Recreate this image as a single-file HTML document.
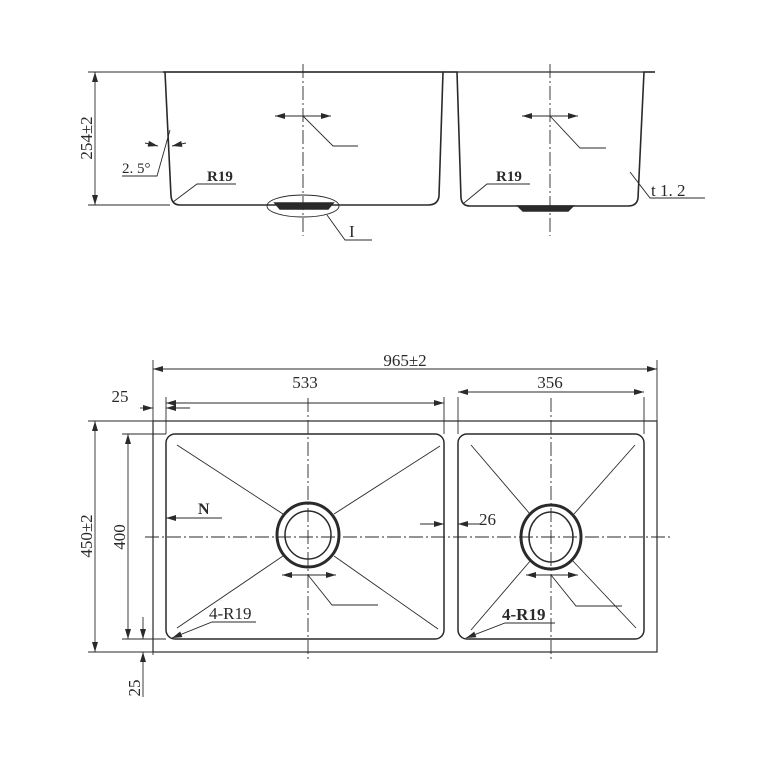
<!DOCTYPE html>
<html><head><style>html,body{margin:0;padding:0;background:#fff}svg{display:block}</style></head><body>
<svg width="768" height="768" viewBox="0 0 768 768" xmlns="http://www.w3.org/2000/svg" font-family="'Liberation Serif',serif" fill="none" stroke="#2a2a2a">
<defs>
<marker id="a" viewBox="0 0 10 6" refX="10" refY="3" markerWidth="11" markerHeight="6" orient="auto-start-reverse" markerUnits="userSpaceOnUse"><path d="M0,0L10,3L0,6z" fill="#2a2a2a" stroke="none"/></marker>
</defs>
<g stroke-width="1.6">
<path d="M163,72H443L439,196Q438,205 428,205H180Q172,205 171,196L165,72"/>
<path d="M443,72H457L461,198Q462,206 470,206H628Q637,206 638,198L644,72H655"/>
<line x1="163" y1="72" x2="655" y2="72" stroke-width="1.2"/>
<path d="M275,203H333L328,209H280Z" fill="#2a2a2a"/>
<path d="M518,206H573L568,211H523Z" fill="#2a2a2a"/>
</g>
<g stroke-width="0.9">
<line x1="88" y1="72" x2="163" y2="72"/><line x1="88" y1="205" x2="170" y2="205"/>
<line x1="95" y1="72" x2="95" y2="205" marker-start="url(#a)" marker-end="url(#a)"/>
<line x1="303" y1="64" x2="303" y2="236" stroke-dasharray="14,3,2,3"/>
<line x1="550" y1="64" x2="550" y2="236" stroke-dasharray="14,3,2,3"/>
<line x1="275" y1="116" x2="331" y2="116" marker-start="url(#a)" marker-end="url(#a)"/>
<polyline points="303,116 333,146 358,146"/>
<line x1="522" y1="116" x2="578" y2="116" marker-start="url(#a)" marker-end="url(#a)"/>
<polyline points="550,116 580,148 606,148"/>
<line x1="145" y1="143" x2="158" y2="146" marker-end="url(#a)"/><line x1="186" y1="143" x2="172" y2="146" marker-end="url(#a)"/>
<polyline points="122,176 157,176 170,130"/>
<polyline points="173,202 197,184 236,184"/>
<polyline points="464,203 487,184 530,184"/>
<ellipse cx="303" cy="206" rx="36" ry="11"/>
<polyline points="327,215 345,240 372,240"/>
<polyline points="630,172 650,198 705,198"/>
</g>
<g fill="#2a2a2a" stroke="none" font-size="17">
<text x="95" y="138" transform="rotate(-90 95 138)" text-anchor="middle" dy="-3">254±2</text>
<text x="122" y="173" font-size="15">2. 5°</text>
<text x="207" y="181" font-weight="bold" font-size="15">R19</text>
<text x="496" y="181" font-weight="bold" font-size="15">R19</text>
<text x="349" y="237">I</text>
<text x="651" y="196">t 1. 2</text>
</g>
<g stroke-width="1.5">
<rect x="153" y="421" width="504" height="231" stroke-width="1.2"/>
<rect x="166" y="434" width="278" height="205" rx="9"/>
<rect x="458" y="434" width="186" height="205" rx="9"/>
<ellipse cx="308" cy="535" rx="31" ry="32" stroke-width="3"/>
<ellipse cx="308" cy="535" rx="23" ry="24"/>
<ellipse cx="551" cy="537" rx="30" ry="32" stroke-width="3"/>
<ellipse cx="551" cy="537" rx="22" ry="25"/>
</g>
<g stroke-width="0.9">
<line x1="177" y1="445" x2="283" y2="514"/><line x1="440" y1="446" x2="334" y2="514"/>
<line x1="177" y1="628" x2="283" y2="556"/><line x1="438" y1="629" x2="334" y2="556"/>
<line x1="471" y1="445" x2="530" y2="514"/><line x1="635" y1="445" x2="574" y2="514"/>
<line x1="471" y1="630" x2="531" y2="560"/><line x1="636" y1="628" x2="572" y2="560"/>
<line x1="145" y1="537" x2="672" y2="537" stroke-dasharray="14,3,2,3"/>
<line x1="308" y1="398" x2="308" y2="660" stroke-dasharray="14,3,2,3"/>
<line x1="551" y1="398" x2="551" y2="660" stroke-dasharray="14,3,2,3"/>
<line x1="153" y1="360" x2="153" y2="655"/><line x1="657" y1="360" x2="657" y2="421"/>
<line x1="166" y1="397" x2="166" y2="434"/><line x1="444" y1="397" x2="444" y2="434"/>
<line x1="458" y1="397" x2="458" y2="434"/><line x1="644" y1="397" x2="644" y2="434"/>
<line x1="153" y1="369" x2="657" y2="369" marker-start="url(#a)" marker-end="url(#a)"/>
<line x1="166" y1="403" x2="444" y2="403" marker-start="url(#a)" marker-end="url(#a)"/>
<line x1="458" y1="392" x2="644" y2="392" marker-start="url(#a)" marker-end="url(#a)"/>
<line x1="140" y1="408" x2="153" y2="408" marker-end="url(#a)"/><line x1="190" y1="408" x2="166" y2="408" marker-end="url(#a)"/>
<line x1="88" y1="421" x2="153" y2="421"/><line x1="88" y1="652" x2="153" y2="652"/>
<line x1="95" y1="421" x2="95" y2="652" marker-start="url(#a)" marker-end="url(#a)"/>
<line x1="122" y1="434" x2="166" y2="434"/><line x1="122" y1="639" x2="166" y2="639"/>
<line x1="128" y1="434" x2="128" y2="639" marker-start="url(#a)" marker-end="url(#a)"/>
<line x1="143" y1="617" x2="143" y2="639" marker-end="url(#a)"/>
<line x1="143" y1="697" x2="143" y2="652" marker-end="url(#a)"/>
<line x1="222" y1="518" x2="166" y2="518" marker-end="url(#a)"/>
<line x1="420" y1="524" x2="444" y2="524" marker-end="url(#a)"/><line x1="480" y1="524" x2="458" y2="524" marker-end="url(#a)"/>
<line x1="282" y1="575" x2="336" y2="575" marker-start="url(#a)" marker-end="url(#a)"/>
<polyline points="308,575 332,605 378,605"/>
<line x1="526" y1="575" x2="578" y2="575" marker-start="url(#a)" marker-end="url(#a)"/>
<polyline points="551,575 576,606 622,606"/>
<polyline points="256,622 212,622 172,638" marker-end="url(#a)"/>
<polyline points="555,623 505,623 466,638" marker-end="url(#a)"/>
</g>
<g fill="#2a2a2a" stroke="none" font-size="17">
<text x="405" y="366" text-anchor="middle">965±2</text>
<text x="305" y="388" text-anchor="middle">533</text>
<text x="550" y="388" text-anchor="middle">356</text>
<text x="120" y="402" text-anchor="middle">25</text>
<text x="92" y="536" transform="rotate(-90 92 536)" text-anchor="middle">450±2</text>
<text x="125" y="537" transform="rotate(-90 125 537)" text-anchor="middle">400</text>
<text x="140" y="688" transform="rotate(-90 140 688)" text-anchor="middle">25</text>
<text x="198" y="514" font-weight="bold" font-size="16">N</text>
<text x="479" y="525">26</text>
<text x="209" y="619">4-R19</text>
<text x="502" y="620" font-weight="bold">4-R19</text>
</g>
</svg>
</body></html>
